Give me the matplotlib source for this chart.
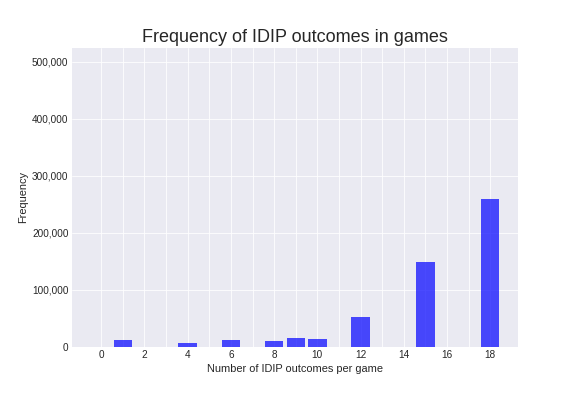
import numpy as np
import matplotlib
matplotlib.use('Agg')
import matplotlib.pyplot as plt
from matplotlib.ticker import MultipleLocator, FixedLocator, FuncFormatter

plt.style.use('seaborn-v0_8-darkgrid')

# outcomes per game and how many games had them
outcomes = [1, 4, 6, 8, 9, 10, 12, 15, 18]
counts = [12000, 7000, 12000, 10500, 16000, 14000, 52500, 149000, 260000]
odd_ticks = [1, 3, 5, 7, 9, 11, 13, 15, 17]

fig, ax = plt.subplots(figsize=(8, 5.5), dpi=72)
fig.subplots_adjust(left=0.125, right=0.9, top=0.88, bottom=0.124)

ax.bar(outcomes, counts, width=0.85, color='blue', alpha=0.7)

ax.set_xlim(-1.35, 19.3)
ax.set_ylim(0, 525000)
ax.xaxis.set_major_locator(MultipleLocator(2))
ax.xaxis.set_minor_locator(FixedLocator(odd_ticks))
ax.yaxis.set_major_locator(MultipleLocator(100000))
ax.yaxis.set_major_formatter(FuncFormatter(lambda v, p: '{:,.0f}'.format(v)))
ax.grid(which='minor', axis='x', color='white',
        linewidth=plt.rcParams['grid.linewidth'])
ax.tick_params(which='both', length=0)

ax.set_title('Frequency of IDIP outcomes in games', fontsize=18)
ax.set_xlabel('Number of IDIP outcomes per game', fontsize=11)
ax.set_ylabel('Frequency', fontsize=11)

fig.savefig('out.png')
